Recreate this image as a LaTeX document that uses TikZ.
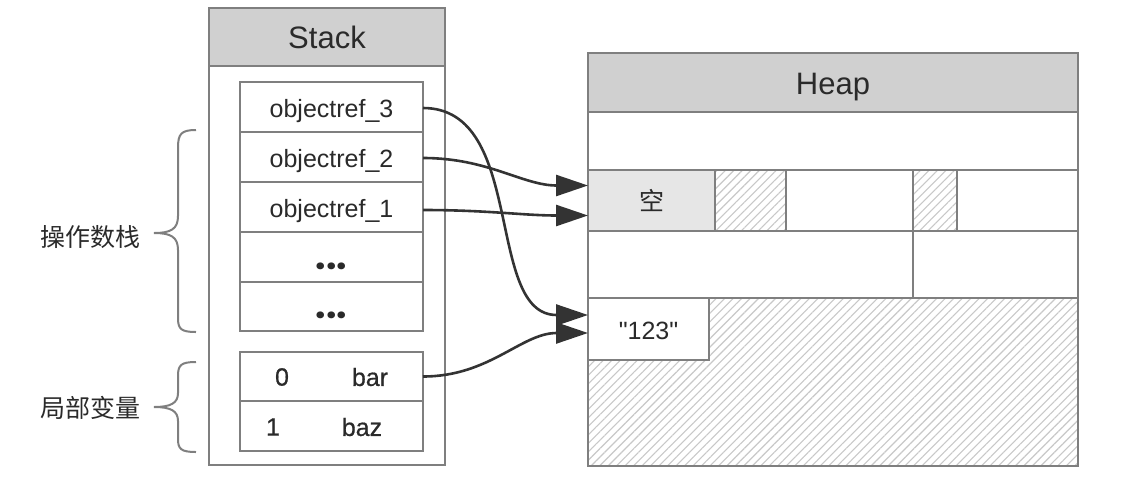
\documentclass[tikz,border=0pt]{standalone}
\usepackage{fontspec}
\setmainfont{Liberation Sans}
\newfontfamily\cjk{Noto Sans CJK SC}
\newfontfamily\medfont{Liberation Sans}[FakeBold=0.6]
\newfontfamily\qfont{Liberation Sans}
\newfontfamily\dotfont{Poppins}
\usetikzlibrary{arrows.meta,patterns.meta}
\definecolor{boxline}{HTML}{7F7F7F}
\definecolor{hdrfill}{HTML}{D0D0D0}
\definecolor{emptyfill}{HTML}{E6E6E6}
\definecolor{hatchc}{HTML}{C8C8C8}
\definecolor{txt}{HTML}{2A2A2A}
\definecolor{arrc}{HTML}{333333}
\begin{document}
\begin{tikzpicture}[x=1pt,y=-1pt,
  cell/.style={draw=boxline, line width=2pt, rectangle, inner sep=0pt, outer sep=0pt,
    anchor=north west, fill=white, text=txt, font=\fontsize{25}{30}\selectfont,
    text height=20pt, text depth=0pt},
  hdr/.style={cell, fill=hdrfill, font=\fontsize{31}{36}\selectfont, text height=23pt},
  hatched/.style={cell, pattern={Lines[angle=45,distance=6pt,line width=1.1pt]}, pattern color=hatchc},
  dots/.style={font=\dotfont\bfseries\fontsize{37}{40}\selectfont, text height=24pt},
  lbl/.style={text=txt, inner sep=0pt, font=\medfont\fontsize{25}{30}\selectfont},
  cjklbl/.style={text=txt, inner sep=0pt, font=\cjk\fontsize{25}{30}\selectfont},
  arr/.style={draw=arrc, line width=2.6pt, -{Triangle[length=32pt,width=21pt]}},
  bracec/.style={draw=boxline, line width=2pt}]
\useasboundingbox (0,0) rectangle (1130,480);
% Stack
\node[cell, minimum width=236pt, minimum height=457pt] (stack) at (209,8) {};
\node[hdr, minimum width=236pt, minimum height=58pt] (stackh) at (209,8) {Stack};
\node[cell, minimum width=183pt, minimum height=50pt] (r3) at (240,82) {objectref\_3};
\node[cell, minimum width=183pt, minimum height=50pt] (r2) at (240,132) {objectref\_2};
\node[cell, minimum width=183pt, minimum height=50pt] (r1) at (240,182) {objectref\_1};
\node[cell, dots, minimum width=183pt, minimum height=50pt] (d1) at (240,232) {...};
\node[cell, dots, minimum width=183pt, minimum height=49pt] (d2) at (240,282) {...};
\node[cell, minimum width=183pt, minimum height=49pt] (l0) at (240,352) {};
\node[cell, minimum width=183pt, minimum height=50pt] (l1) at (240,401) {};
\node[lbl] (l0a) at (282,377) {0};
\node[lbl] (l0b) at (370,377) {bar};
\node[lbl] (l1a) at (273,427) {1};
\node[lbl] (l1b) at (362,427) {baz};
% Heap
\node[cell, minimum width=490pt, minimum height=413pt] (heap) at (588,53) {};
\node[hdr, minimum width=490pt, minimum height=59pt] (heaph) at (588,53) {Heap};
\node[cell, minimum width=490pt, minimum height=58pt] (h1) at (588,112) {};
\node[cell, fill=emptyfill, minimum width=127pt, minimum height=61pt] (c1) at (588,170) {\cjk 空};
\node[hatched, minimum width=71pt, minimum height=61pt] (c2) at (715,170) {};
\node[cell, minimum width=127pt, minimum height=61pt] (c3) at (786,170) {};
\node[hatched, minimum width=44pt, minimum height=61pt] (c4) at (913,170) {};
\node[cell, minimum width=121pt, minimum height=61pt] (c5) at (957,170) {};
\node[cell, minimum width=325pt, minimum height=67pt] (c6) at (588,231) {};
\node[cell, minimum width=165pt, minimum height=67pt] (c7) at (913,231) {};
\node[hatched, minimum width=490pt, minimum height=168pt] (free) at (588,298) {};
\node[cell, minimum width=121pt, minimum height=62pt] (s123) at (588,298) {\qfont "123"};
% braces
\draw[bracec] (196,130) .. controls (181,130) and (178,134) .. (178,148) -- (178,216)
  .. controls (178,229) and (171,233) .. (154,233)
  .. controls (171,233) and (178,237) .. (178,250) -- (178,318)
  .. controls (178,329) and (181,332) .. (196,332);
\draw[bracec] (196,362) .. controls (181,362) and (178,365) .. (178,376) -- (178,393)
  .. controls (178,403) and (171,407) .. (154,407)
  .. controls (171,407) and (178,411) .. (178,421) -- (178,439)
  .. controls (178,449) and (181,452) .. (196,452);
\node[cjklbl] (opl) at (90,237) {操作数栈};
\node[cjklbl] (lvl) at (90,408) {局部变量};
% arrows
\draw[arr] ([yshift=-1pt]r3.east) to[out=0,in=180] ([yshift=14pt]s123.west);
\draw[arr] ([yshift=-1pt]r2.east) to[out=0,in=180] ([yshift=15pt]c1.west);
\draw[arr] ([yshift=-3pt]r1.east) to[out=0,in=180] ([yshift=-15pt]c1.west);
\draw[arr] (l0.east) to[out=0,in=180] ([yshift=-4pt]s123.west);
\end{tikzpicture}
\end{document}
